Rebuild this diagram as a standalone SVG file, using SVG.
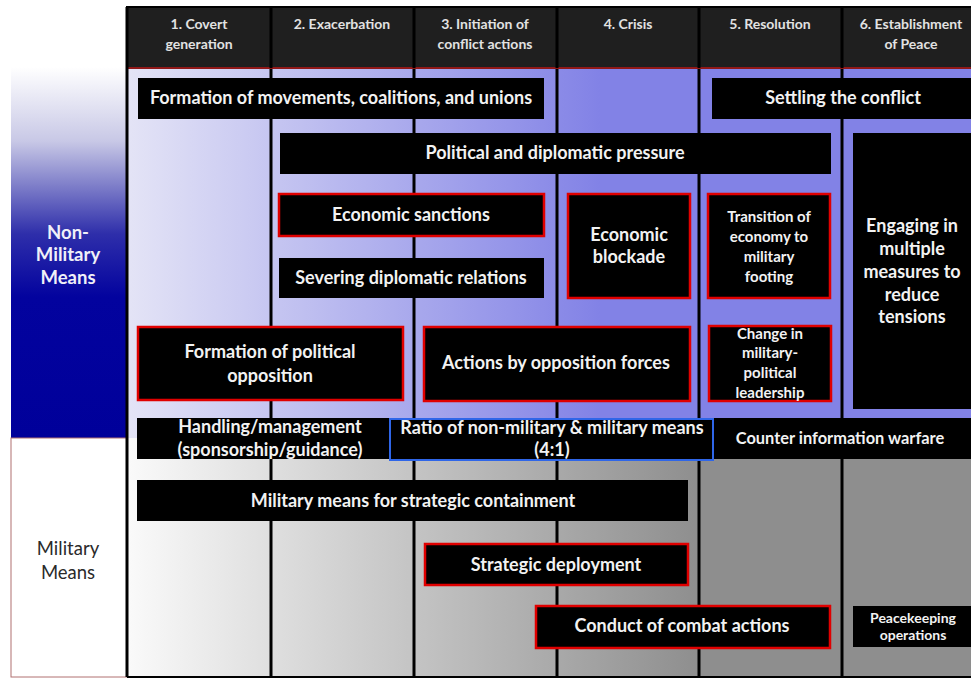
<svg xmlns="http://www.w3.org/2000/svg" width="971" height="679" viewBox="0 0 971 679">
<defs>
<linearGradient id="navy" gradientUnits="userSpaceOnUse" x1="0" y1="67" x2="0" y2="438">
<stop offset="0" stop-color="#FFFFFF"/>
<stop offset="0.2" stop-color="#C8C8E6"/>
<stop offset="0.45" stop-color="#2E2EAA"/>
<stop offset="0.62" stop-color="#03039E"/>
<stop offset="1" stop-color="#00009A"/>
</linearGradient>
<linearGradient id="lav" gradientUnits="userSpaceOnUse" x1="127" y1="0" x2="600" y2="0">
<stop offset="0" stop-color="#E4E4F6"/>
<stop offset="1" stop-color="#8282E6"/>
</linearGradient>
<linearGradient id="grey" gradientUnits="userSpaceOnUse" x1="127" y1="0" x2="700" y2="0">
<stop offset="0" stop-color="#FAFAFA"/>
<stop offset="1" stop-color="#8E8E8E"/>
</linearGradient>
<style>
.hd{font-family:Lato,"Liberation Sans",sans-serif;font-weight:bold;font-size:14px;fill:#E2E2E2;text-anchor:middle}
.t{font-family:Lato,"Liberation Sans",sans-serif;font-weight:bold;font-size:18px;fill:#F2F2F2;text-anchor:middle}
.s{font-family:Lato,"Liberation Sans",sans-serif;font-weight:bold;font-size:15px;fill:#F2F2F2;text-anchor:middle}
.b{fill:#000}
.r{fill:#000;stroke:#E00000;stroke-width:2.5}
.bl{fill:#000;stroke:#2F66E8;stroke-width:2}
.dv{stroke:#000;stroke-width:3}
.lbl{font-family:Lato,"Liberation Sans",sans-serif;font-size:18.5px;text-anchor:middle}
</style>
</defs>
<rect width="971" height="679" fill="#FFFFFF"/>
<!-- left labels -->
<g id="non-military-label">
<rect x="11" y="67" width="116" height="371" fill="url(#navy)"/>
<text class="lbl" font-weight="bold" fill="#F0F0F8"><tspan x="68" y="238.5">Non-</tspan><tspan x="68" y="260.5">Military</tspan><tspan x="68" y="283.5">Means</tspan></text>
</g>
<g id="military-label">
<rect x="11" y="438" width="116" height="239" fill="#FFFFFF" stroke="#B07070" stroke-width="1"/>
<text class="lbl" fill="#2A2A2A"><tspan x="68" y="554.5">Military</tspan><tspan x="68" y="578.5">Means</tspan></text>
</g>
<!-- grid backgrounds -->
<rect x="127" y="68" width="844" height="370" fill="url(#lav)"/>
<rect x="127" y="438" width="844" height="239" fill="url(#grey)"/>
<g id="connectors">
<line class="dv" x1="271" y1="7" x2="271" y2="677"/>
<line class="dv" x1="414" y1="7" x2="414" y2="677"/>
<line class="dv" x1="557" y1="7" x2="557" y2="677"/>
<line class="dv" x1="699" y1="7" x2="699" y2="677"/>
<line class="dv" x1="842" y1="7" x2="842" y2="677"/>
</g>
<!-- header -->
<g id="header">
<rect x="127" y="7" width="846" height="61" fill="#1F1F1F" stroke="#000" stroke-width="2"/>
<line x1="127" y1="68" x2="971" y2="68" stroke="#C02020" stroke-width="1.5"/>
<line class="dv" x1="271" y1="7" x2="271" y2="68"/>
<line class="dv" x1="414" y1="7" x2="414" y2="68"/>
<line class="dv" x1="557" y1="7" x2="557" y2="68"/>
<line class="dv" x1="699" y1="7" x2="699" y2="68"/>
<line class="dv" x1="842" y1="7" x2="842" y2="68"/>
<text class="hd"><tspan x="199" y="28.5">1. Covert</tspan><tspan x="199" y="49">generation</tspan></text>
<text class="hd" x="342" y="28.5">2. Exacerbation</text>
<text class="hd"><tspan x="485" y="28.5">3. Initiation of</tspan><tspan x="485" y="49">conflict actions</tspan></text>
<text class="hd" x="628" y="28.5">4. Crisis</text>
<text class="hd" x="770" y="28.5">5. Resolution</text>
<text class="hd"><tspan x="911" y="28.5">6. Establishment</tspan><tspan x="911" y="49">of Peace</tspan></text>
</g>
<line x1="127" y1="7" x2="127" y2="677" stroke="#000" stroke-width="3"/>
<line x1="127" y1="677" x2="971" y2="677" stroke="#000" stroke-width="2"/>
<!-- non-military boxes -->
<g id="formation-movements"><rect class="b" x="138" y="78" width="406" height="41"/><text class="t" x="341" y="104">Formation of movements, coalitions, and unions</text></g>
<g id="settling"><rect class="b" x="712" y="78" width="262" height="41"/><text class="t" x="843" y="104">Settling the conflict</text></g>
<g id="political-pressure"><rect class="b" x="280" y="133" width="551" height="41"/><text class="t" x="555" y="159">Political and diplomatic pressure</text></g>
<g id="economic-sanctions"><rect class="r" x="279" y="194" width="265" height="42"/><text class="t" x="411" y="221">Economic sanctions</text></g>
<g id="severing"><rect class="b" x="279" y="258" width="265" height="40"/><text class="t" x="411" y="284">Severing diplomatic relations</text></g>
<g id="economic-blockade"><rect class="r" x="568" y="194" width="122" height="104"/><text class="t"><tspan x="629" y="241">Economic</tspan><tspan x="629" y="263">blockade</tspan></text></g>
<g id="transition"><rect class="r" x="708" y="194" width="122" height="104"/><text class="s"><tspan x="769" y="222">Transition of</tspan><tspan x="769" y="242">economy to</tspan><tspan x="769" y="262">military</tspan><tspan x="769" y="282">footing</tspan></text></g>
<g id="engaging"><rect class="b" x="853" y="133" width="122" height="276"/><text class="t"><tspan x="912" y="232">Engaging in</tspan><tspan x="912" y="255">multiple</tspan><tspan x="912" y="278">measures to</tspan><tspan x="912" y="301">reduce</tspan><tspan x="912" y="323">tensions</tspan></text></g>
<g id="formation-opposition"><rect class="r" x="138" y="327" width="265" height="73"/><text class="t"><tspan x="270" y="358">Formation of political</tspan><tspan x="270" y="382">opposition</tspan></text></g>
<g id="actions-opposition"><rect class="r" x="424" y="327" width="266" height="74"/><text class="t" x="556" y="369">Actions by opposition forces</text></g>
<g id="change-leadership"><rect class="r" x="709" y="326" width="122" height="75"/><text class="s"><tspan x="770" y="339">Change in</tspan><tspan x="770" y="358">military-</tspan><tspan x="770" y="378">political</tspan><tspan x="770" y="398">leadership</tspan></text></g>
<g id="handling"><rect class="b" x="137" y="418" width="253" height="41"/><text class="t"><tspan x="270" y="433">Handling/management</tspan><tspan x="270" y="456">(sponsorship/guidance)</tspan></text></g>
<g id="counter-info"><rect class="b" x="713" y="418" width="262" height="41"/><text class="t" style="font-size:16.4px" x="840" y="444">Counter information warfare</text></g>
<g id="ratio"><rect class="bl" x="390" y="419" width="323" height="41"/><text class="t"><tspan x="552" y="434">Ratio of non-military &amp; military means</tspan><tspan x="552" y="456">(4:1)</tspan></text></g>
<!-- military boxes -->
<g id="military-containment"><rect class="b" x="137" y="480" width="551" height="41"/><text class="t" x="413" y="507">Military means for strategic containment</text></g>
<g id="strategic-deployment"><rect class="r" x="425" y="544" width="263" height="41"/><text class="t" x="556" y="571">Strategic deployment</text></g>
<g id="combat-actions"><rect class="r" x="536" y="606" width="294" height="42"/><text class="t" x="682" y="632">Conduct of combat actions</text></g>
<g id="peacekeeping"><rect class="b" x="853" y="606" width="122" height="41"/><text class="s" style="font-size:14px"><tspan x="913" y="623">Peacekeeping</tspan><tspan x="913" y="640">operations</tspan></text></g>
</svg>
